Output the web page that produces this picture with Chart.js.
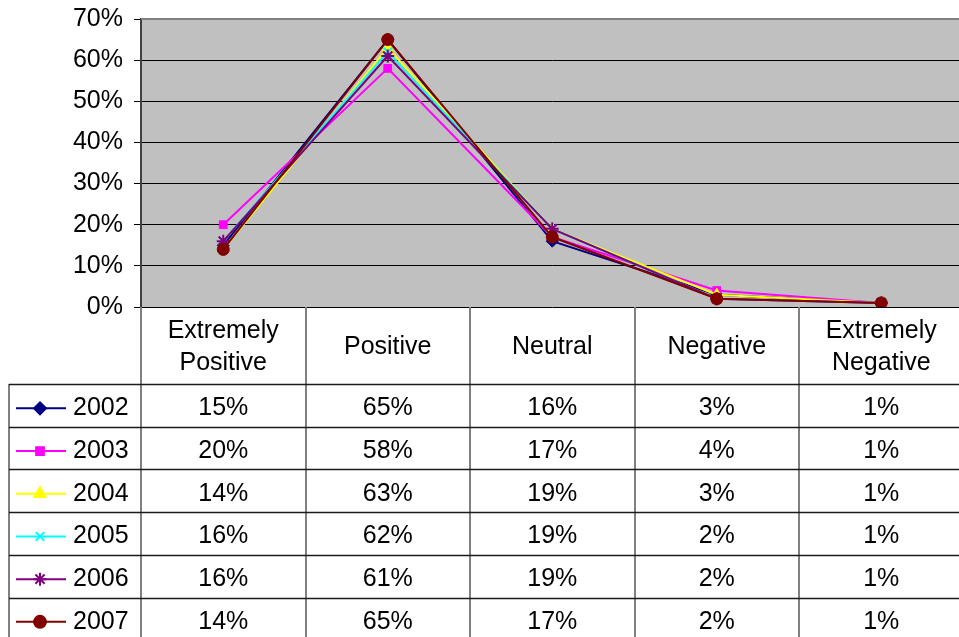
<!DOCTYPE html>
<html><head><meta charset="utf-8">
<script src="https://cdn.jsdelivr.net/npm/chart.js@4/dist/chart.umd.min.js"></script>
<style>html,body{margin:0;padding:0;background:#fff;overflow:hidden}#c{display:block}</style>
</head><body><canvas id="c" width="972" height="637"></canvas>
<script>
const categories = [["Extremely","Positive"],["Positive"],["Neutral"],["Negative"],["Extremely","Negative"]];
const years = ["2002","2003","2004","2005","2006","2007"];
const v2002 = [15,65,16,3,1];
const v2003 = [20,58,17,4,1];
const v2004 = [14,63,19,3,1];
const v2005 = [16,62,19,2,1];
const v2006 = [16,61,19,2,1];
const v2007 = [14,65,17,2,1];
const yTicks = [0,10,20,30,40,50,60,70];

const seriesValues = [v2002,v2003,v2004,v2005,v2006,v2007];
const colors = ['#000080','#FF00FF','#FFFF00','#00FFFF','#800080','#800000'];
const styles = ['rectRot','rect','triangle','crossRot','star','circle'];
const radii = [6,5.5,6.5,6,6.5,6];
const FONT = '"Liberation Sans", Arial, sans-serif';
const FS = 25;

const datasets = years.map((y,i)=>({
  label:y, data:seriesValues[i], borderColor:colors[i], backgroundColor:colors[i],
  borderWidth:2, tension:0, pointStyle:styles[i], pointRadius:radii[i],
  order: years.length - i,
  pointBorderColor:colors[i], pointBackgroundColor:colors[i], pointBorderWidth:(styles[i]==='crossRot'||styles[i]==='star')?2:1
}));

const tablePlugin = {
  id:'tablePlugin',
  beforeDraw(chart){
    const {ctx, chartArea:a} = chart;
    ctx.save(); ctx.fillStyle='#C0C0C0'; ctx.fillRect(a.left,a.top,a.right-a.left,a.bottom-a.top); ctx.restore();
  },
  afterDraw(chart){
    const {ctx, chartArea:a, scales:{x}} = chart;
    ctx.save();
    ctx.strokeStyle='#808080'; ctx.lineWidth=2;
    ctx.beginPath(); ctx.moveTo(a.left, a.top); ctx.lineTo(a.right+5, a.top); ctx.stroke();
    const cw = x.getPixelForValue(1)-x.getPixelForValue(0);
    const headTop = a.bottom, headBot = 384, rowH = 42.7, legLeft = 9;
    const bottom = 640;
    ctx.strokeStyle='#808080'; ctx.lineWidth=2;
    for(let i=0;i<=categories.length;i++){
      const xx = Math.round(x.getPixelForValue(0)-cw/2 + i*cw);
      ctx.beginPath(); ctx.moveTo(xx, headTop); ctx.lineTo(xx, bottom); ctx.stroke();
    }
    ctx.beginPath(); ctx.moveTo(legLeft, headBot); ctx.lineTo(legLeft, bottom); ctx.stroke();
    ctx.strokeStyle='#1a1a1a'; ctx.lineWidth=1.5;
    for(let r=0;r<=years.length;r++){
      const yy = Math.round(headBot + r*rowH)+0.5;
      ctx.beginPath(); ctx.moveTo(legLeft, yy); ctx.lineTo(a.right+5, yy); ctx.stroke();
    }
    ctx.fillStyle='#000'; ctx.font = FS+'px '+FONT; ctx.textAlign='center'; ctx.textBaseline='middle';
    categories.forEach((lines,i)=>{
      const cx = x.getPixelForValue(i);
      const cy = (headTop+headBot)/2 + 2;
      const lh = 32;
      lines.forEach((t,k)=>{ ctx.fillText(t, cx, cy + (k-(lines.length-1)/2)*lh); });
    });
    years.forEach((y,r)=>{
      const cy = headBot + r*rowH + rowH/2 + 3;
      ctx.strokeStyle=colors[r]; ctx.lineWidth=2;
      ctx.beginPath(); ctx.moveTo(16, cy); ctx.lineTo(66, cy); ctx.stroke();
      ctx.fillStyle=colors[r]; ctx.strokeStyle=colors[r];
      Chart.helpers.drawPoint(ctx,{pointStyle:styles[r], radius:radii[r], rotation:0,
        borderWidth:(styles[r]==='crossRot'||styles[r]==='star')?2:1}, 40, cy);
      ctx.fillStyle='#000'; ctx.textAlign='left';
      ctx.fillText(y, 73, cy);
      ctx.textAlign='center';
      seriesValues[r].forEach((v,i)=>{ ctx.fillText(v+'%', x.getPixelForValue(i), cy); });
    });
    ctx.restore();
  }
};

new Chart(document.getElementById('c'), {
  type:'line',
  data:{ labels: categories.map(c=>c.join(' ')), datasets },
  options:{
    responsive:false, animation:false, devicePixelRatio:1,
    layout:{ padding:{ top:19, bottom:330, left:0, right:2 } },
    plugins:{ legend:{display:false}, tooltip:{enabled:false} },
    scales:{
      x:{ display:false, offset:true },
      y:{ min:0, max:70, afterFit(s){ s.width=141; s.paddingTop=0; s.paddingBottom=0; },
        afterBuildTicks(s){ s.ticks = yTicks.map(v=>({value:v})); },
        ticks:{ callback:v=>v+'%', color:'#000', padding:11, font:{family:FONT, size:FS} },
        grid:{ color:'#000', lineWidth:1, tickLength:7, tickColor:'#000' },
        border:{ color:'#404040', width:2 } }
    }
  },
  plugins:[tablePlugin]
});
</script></body></html>
